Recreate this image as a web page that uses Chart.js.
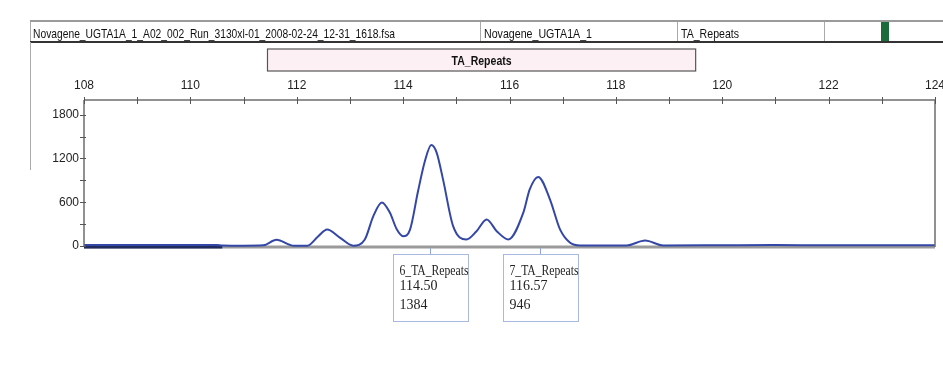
<!DOCTYPE html>
<html>
<head>
<meta charset="utf-8">
<title>TA_Repeats</title>
<script src="https://cdn.jsdelivr.net/npm/chart.js@4.4.1/dist/chart.umd.min.js"></script>
<style>
  html, body { margin: 0; padding: 0; background: #fff; }
  canvas { display: block; }
</style>
</head>
<body>
<canvas id="grafico" width="943" height="372"></canvas>
<script>
// -------------------- DADOS --------------------
const tamanhosBp = [108, 108.5, 109, 109.5, 110, 110.5, 110.6, 111, 111.37, 111.62, 111.93, 112.2,
  112.4, 112.57, 112.81, 113.06, 113.28, 113.44, 113.6, 113.75, 113.88, 114.0, 114.13, 114.28,
  114.41, 114.53, 114.63, 114.75, 114.94, 115.19, 115.38, 115.57, 115.76, 115.98, 116.26, 116.38,
  116.54, 116.76, 116.95, 117.14, 117.33, 118.2, 118.55, 118.89, 120, 121, 122, 123, 124];
const intensidadeRfu = [12, 14, 12, 15, 12, 14, 8, 5, 10, 85, 5, 5,
  130, 225, 115, 5, 90, 410, 596, 458, 229, 135, 225, 750,
  1165, 1384, 1280, 913, 272, 90, 203, 364, 203, 90, 456, 775,
  946, 640, 227, 44, 8, 8, 75, 8, 10, 12, 10, 10, 10];

const ticksX = [108, 110, 112, 114, 116, 118, 120, 122, 124];
const ticksY = [0, 600, 1200, 1800];

const picoNomes = ['6_TA_Repeats', '7_TA_Repeats'];
const picoTamanhos = [114.50, 116.57];
const picoAlturas = [1384, 946];

const binNome = 'TA_Repeats';
const binFaixa = [111.45, 119.5];

const cabecalhoArquivo = 'Novagene_UGTA1A_1_A02_002_Run_3130xl-01_2008-02-24_12-31_1618.fsa';
const cabecalhoAmostra = 'Novagene_UGTA1A_1';
const cabecalhoPainel = 'TA_Repeats';

const FONTE = '"Liberation Sans Narrow", "Arial Narrow", "Liberation Sans", Arial, sans-serif';
const FONTE_SERIF = '"Liberation Serif", "Times New Roman", serif';
const AZUL = '#3447a6';

// -------------------- DECORACOES --------------------
const decoracoes = {
  id: 'decoracoes',
  beforeDatasetsDraw(chart) {
    const { ctx, chartArea: a, scales: { x, y } } = chart;
    const y0 = y.getPixelForValue(0);
    ctx.save();
    ctx.strokeStyle = '#9a9a9a';
    ctx.lineWidth = 3;
    ctx.beginPath();
    ctx.moveTo(a.left, y0 + 1);
    ctx.lineTo(a.right, y0 + 1);
    ctx.stroke();
    // trecho escuro da linha de base no inicio
    ctx.strokeStyle = '#1f2b5e';
    ctx.beginPath();
    ctx.moveTo(a.left, y0 + 1);
    ctx.lineTo(x.getPixelForValue(110.6), y0 + 1);
    ctx.stroke();
    ctx.restore();
  },
  afterDraw(chart) {
    const { ctx, chartArea: a, scales: { x, y } } = chart;
    ctx.save();

    // eixos
    ctx.strokeStyle = '#6e6e6e';
    ctx.lineWidth = 1.5;
    ctx.beginPath();
    ctx.moveTo(a.left, a.top);
    ctx.lineTo(a.right, a.top);
    ctx.moveTo(a.left, a.top);
    ctx.lineTo(a.left, a.bottom + 1);
    ctx.moveTo(a.right, a.top);
    ctx.lineTo(a.right, a.bottom + 1);
    ctx.stroke();

    ctx.lineWidth = 1;
    ctx.strokeStyle = '#555';
    ctx.beginPath();
    for (let v = x.min; v <= x.max; v++) {
      const px = Math.round(x.getPixelForValue(v)) + 0.5;
      ctx.moveTo(px, a.top - 3);
      ctx.lineTo(px, a.top + 4);
    }
    for (let v = y.min; v < y.max; v += 300) {
      const py = Math.round(y.getPixelForValue(v)) + 0.5;
      ctx.moveTo(a.left - 4, py);
      ctx.lineTo(a.left + 2, py);
    }
    ctx.stroke();

    // cabecalho
    ctx.strokeStyle = '#9a9a9a';
    ctx.lineWidth = 2;
    ctx.beginPath();
    ctx.moveTo(30, 21);
    ctx.lineTo(943, 21);
    ctx.stroke();
    ctx.strokeStyle = '#333';
    ctx.beginPath();
    ctx.moveTo(30, 42);
    ctx.lineTo(943, 42);
    ctx.stroke();
    ctx.strokeStyle = '#aaa';
    ctx.lineWidth = 1;
    ctx.beginPath();
    [30.5, 480.5, 677.5, 824.5].forEach(cx => {
      ctx.moveTo(cx, 22);
      ctx.lineTo(cx, 41);
    });
    ctx.moveTo(30.5, 42);
    ctx.lineTo(30.5, 170);
    ctx.stroke();

    ctx.fillStyle = '#1b6b3a';
    ctx.fillRect(881, 22, 8, 19);

    ctx.fillStyle = '#111';
    ctx.font = '13px ' + FONTE;
    ctx.textBaseline = 'alphabetic';
    ctx.textAlign = 'left';
    ctx.fillText(cabecalhoArquivo, 33, 38, 362);
    ctx.fillText(cabecalhoAmostra, 484, 38, 108);
    ctx.fillText(cabecalhoPainel, 681, 38, 58);

    // bin
    const bx1 = x.getPixelForValue(binFaixa[0]);
    const bx2 = x.getPixelForValue(binFaixa[1]);
    ctx.fillStyle = '#fcf0f4';
    ctx.fillRect(bx1, 49, bx2 - bx1, 22);
    ctx.strokeStyle = '#555';
    ctx.lineWidth = 1.2;
    ctx.strokeRect(bx1, 49, bx2 - bx1, 22);
    ctx.fillStyle = '#111';
    ctx.textAlign = 'center';
    ctx.font = 'bold 12px ' + FONTE;
    ctx.fillText(binNome, (bx1 + bx2) / 2, 65, 60);

    // rotulos dos picos
    const y0 = y.getPixelForValue(0);
    picoNomes.forEach((nome, i) => {
      const cx = x.getPixelForValue(picoTamanhos[i]);
      const left = Math.round(cx - 37) + 0.5;
      ctx.strokeStyle = '#8fa4d8';
      ctx.lineWidth = 1;
      ctx.beginPath();
      ctx.moveTo(Math.round(cx) + 0.5, y0 + 2);
      ctx.lineTo(Math.round(cx) + 0.5, 254);
      ctx.stroke();
      ctx.strokeStyle = '#a9b8e0';
      ctx.strokeRect(left, 254.5, 75, 67);
      ctx.fillStyle = '#222';
      ctx.textAlign = 'left';
      ctx.font = '14px ' + FONTE_SERIF;
      ctx.fillText(nome, left + 6, 275, 69);
      ctx.fillText(picoTamanhos[i].toFixed(2), left + 6, 290, 69);
      ctx.fillText(String(picoAlturas[i]), left + 6, 309, 69);
    });

    ctx.restore();
  }
};

// -------------------- GRAFICO --------------------
const pontos = tamanhosBp.map((bp, i) => ({ x: bp, y: intensidadeRfu[i] }));

new Chart(document.getElementById('grafico'), {
  type: 'line',
  data: {
    datasets: [{
      data: pontos,
      borderColor: AZUL,
      borderWidth: 2,
      pointRadius: 0,
      fill: false,
      cubicInterpolationMode: 'monotone',
      clip: false
    }]
  },
  options: {
    responsive: false,
    animation: false,
    layout: { padding: { left: 0, right: 8, top: 75, bottom: 126 } },
    plugins: { legend: { display: false }, tooltip: { enabled: false } },
    scales: {
      x: {
        type: 'linear',
        position: 'top',
        min: 108,
        max: 124,
        afterBuildTicks: scale => { scale.ticks = ticksX.map(v => ({ value: v })); },
        afterFit: scale => {
          scale.height = 25;
          scale.paddingLeft = 0;
          scale.paddingRight = 0;
        },
        ticks: {
          padding: 7,
          maxRotation: 0,
          autoSkip: false,
          color: '#222',
          font: { family: FONTE, size: 12 },
          callback: v => String(v)
        },
        grid: { display: false, drawTicks: false },
        border: { display: false }
      },
      y: {
        min: 0,
        max: 2000,
        afterBuildTicks: scale => { scale.ticks = ticksY.map(v => ({ value: v })); },
        afterFit: scale => {
          scale.width = 84;
          scale.paddingTop = 0;
          scale.paddingBottom = 0;
        },
        ticks: {
          padding: 5,
          color: '#222',
          font: { family: FONTE, size: 12 },
          callback: v => String(v)
        },
        grid: { display: false, drawTicks: false },
        border: { display: false }
      }
    }
  },
  plugins: [decoracoes]
});
</script>
</body>
</html>
